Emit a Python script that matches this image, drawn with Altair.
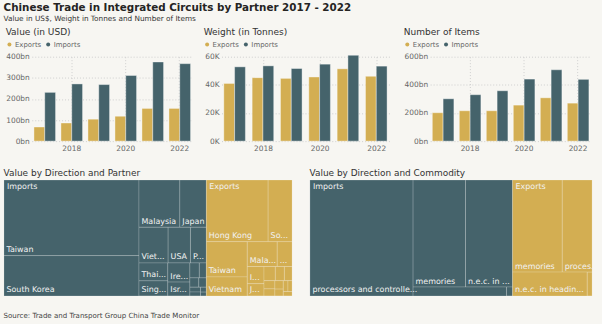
import altair as alt
import pandas as pd

FONT = "DejaVu Sans"
BG = "#F7F6F2"
GOLD = "#D3AE52"
TEAL = "#45636B"
TXT = "#333333"
AXC = "#666666"

YEARS = [2017, 2018, 2019, 2020, 2021, 2022]
DIRECTIONS = ["Exports", "Imports"]

VALUE_EXPORTS = [67, 86, 104, 118, 155, 155]
VALUE_IMPORTS = [231, 271, 268, 311, 375, 367]
WEIGHT_EXPORTS = [41.0, 45.1, 44.6, 45.6, 51.4, 46.1]
WEIGHT_IMPORTS = [52.8, 53.5, 51.6, 54.7, 61.0, 53.3]
ITEMS_EXPORTS = [202, 216, 216, 256, 308, 270]
ITEMS_IMPORTS = [301, 330, 358, 441, 507, 439]

VALUE_TICKS = [0, 100, 200, 300, 400]
WEIGHT_TICKS = [0, 20, 40, 60]
ITEMS_TICKS = [0, 200, 400, 600]
YEAR_TICKS = [2018, 2020, 2022]

# Value by direction and partner (bn USD)
PARTNER_IMP_NAMES = ["Taiwan", "South Korea", "Malaysia", "Japan", "Vietnam", "USA",
                     "Philippines", "Thailand", "Singapore", "Ireland", "Israel",
                     "Germany", "Netherlands", "Mexico", "Costa Rica", "France",
                     "Morocco", "Indonesia", "India"]
PARTNER_IMP_VALUES = [159.8, 85.3, 30.2, 19.6, 16.3, 12.5, 8.9, 8.1, 6.8, 6.6, 4.8,
                      2.2, 1.65, 1.3, 1.1, 0.8, 0.65, 0.45, 0.35]
PARTNER_IMP_LABELS = ["Taiwan", "South Korea", "Malaysia", "Japan", "Viet...", "USA",
                      "P...", "Thai...", "Sing...", "Ire...", "Isr...",
                      "", "", "", "", "", "", "", ""]
PARTNER_EXP_NAMES = ["Hong Kong", "South Korea", "Taiwan", "Vietnam", "Malaysia",
                     "Singapore", "India", "Japan", "USA", "Thailand", "Philippines",
                     "Germany", "Mexico", "Netherlands", "Hungary", "Czechia",
                     "Brazil", "Israel"]
PARTNER_EXP_VALUES = [59.6, 23.1, 22.6, 12.2, 11.7, 5.8, 4.5, 3.2, 2.5, 2.0, 1.7,
                      1.4, 1.2, 1.1, 0.9, 0.8, 0.7, 0.6]
PARTNER_EXP_LABELS = ["Hong Kong", "So...", "Taiwan", "Vietnam", "Mala...", "...",
                      "I...", "J...", "", "", "", "", "", "", "", "", "", ""]

# Value by direction and commodity (bn USD)
COMM_IMP_NAMES = ["processors and controllers", "memories", "n.e.c. in heading 8542",
                  "amplifiers", "parts"]
COMM_IMP_VALUES = [186.8, 87.7, 78.7, 13.0, 0.84]
COMM_IMP_LABELS = ["processors and controlle...", "memories", "n.e.c. in ...", "", ""]
COMM_EXP_NAMES = ["memories", "processors and controllers", "n.e.c. in heading 8542",
                  "amplifiers"]
COMM_EXP_VALUES = [71.5, 42.9, 27.8, 1.8]
COMM_EXP_LABELS = ["memories", "proces...", "n.e.c. in headin...", ""]

PHI = (1 + 5 ** 0.5) / 2


def squarify(values, x0, y0, x1, y1, ratio=PHI):
    """Port of d3.treemapSquarify (values sorted descending)."""
    out = []
    n = len(values)
    value = float(sum(values))
    i0 = i1 = 0
    while i0 < n:
        dx, dy = x1 - x0, y1 - y0
        sum_v = values[i1]
        i1 += 1
        min_v = max_v = sum_v
        alpha = max(dy / dx, dx / dy) / (value * ratio)
        beta = sum_v * sum_v * alpha
        min_ratio = max(max_v / beta, beta / min_v)
        while i1 < n:
            nv = values[i1]
            s = sum_v + nv
            mn, mx = min(min_v, nv), max(max_v, nv)
            beta = s * s * alpha
            new_ratio = max(mx / beta, beta / mn)
            if new_ratio > min_ratio:
                break
            sum_v, min_v, max_v, min_ratio = s, mn, mx, new_ratio
            i1 += 1
        row = values[i0:i1]
        if dx < dy:
            ny = y0 + dy * sum_v / value if i1 < n else y1
            k = (x1 - x0) / sum_v
            x = x0
            for v in row:
                out.append((x, y0, x + v * k, ny))
                x += v * k
            y0 = ny
        else:
            nx = x0 + dx * sum_v / value if i1 < n else x1
            k = (y1 - y0) / sum_v
            y = y0
            for v in row:
                out.append((x0, y, nx, y + v * k))
                y += v * k
            x0 = nx
        value -= sum_v
        i0 = i1
    return out


def treemap_frames(groups, W, H):
    groups = sorted(groups, key=lambda g: -sum(g[2]))
    tops = squarify([sum(g[2]) for g in groups], 0, 0, W, H)
    cells, heads = [], []
    for (gname, names, vals, labels), (gx0, gy0, gx1, gy1) in zip(groups, tops):
        order = sorted(range(len(vals)), key=lambda i: -vals[i])
        rects = squarify([vals[i] for i in order], gx0, gy0, gx1, gy1)
        for i, (a, b, c, d) in zip(order, rects):
            cells.append({"dir": gname, "name": names[i], "value": vals[i],
                          "label": labels[i], "x0": a, "y0": b, "x1": c, "y1": d})
        heads.append({"dir": gname, "label": gname, "x0": gx0, "y0": gy0})
    return pd.DataFrame(cells), pd.DataFrame(heads)


color_scale = alt.Scale(domain=DIRECTIONS, range=[GOLD, TEAL])


def bar_panel(title, exp, imp, ticks, suffix, width, legend_x):
    df = pd.DataFrame({"year": YEARS * 2,
                       "dir": ["Exports"] * len(YEARS) + ["Imports"] * len(YEARS),
                       "v": list(exp) + list(imp)})
    return alt.Chart(df, title=alt.TitleParams(
        title, anchor="start", frame="bounds", fontSize=9.1,
        fontWeight="normal", color=TXT, offset=4, font=FONT)
    ).mark_bar(stroke="#FFFFFF", strokeOpacity=0.55, strokeWidth=0.7).encode(
        x=alt.X("year:O", title=None,
                scale=alt.Scale(paddingInner=0.2, paddingOuter=0.08),
                axis=alt.Axis(values=YEAR_TICKS, labelAngle=0, grid=True,
                              gridDash=[1, 2], gridColor="#CFCFCF", domain=False,
                              ticks=False, bandPosition=0.5, labelFontSize=7.5,
                              labelColor=AXC, labelPadding=3, labelFont=FONT)),
        xOffset=alt.XOffset("dir:N", scale=alt.Scale(domain=DIRECTIONS, paddingInner=0,
                                                      paddingOuter=0)),
        y=alt.Y("v:Q", title=None, scale=alt.Scale(domain=[ticks[0], ticks[-1]], nice=False),
                axis=alt.Axis(values=ticks, labelExpr=f"datum.value + '{suffix}'",
                              grid=True, gridDash=[1, 2], gridColor="#CFCFCF",
                              domain=False, ticks=False, labelFontSize=7.5,
                              labelColor=AXC, labelPadding=2.5, labelFont=FONT)),
        color=alt.Color("dir:N", scale=color_scale, legend=alt.Legend(
            title=None, orient="none", legendX=legend_x, legendY=-16,
            direction="horizontal", symbolType="circle", symbolSize=16,
            symbolStrokeWidth=0, labelFontSize=7, labelColor=AXC, labelFont=FONT,
            labelOffset=2, columnPadding=3, padding=0)),
    ).properties(width=width, height=85)


def treemap_panel(title, groups, W, H):
    cells, heads = treemap_frames(groups, W, H)
    xs = alt.Scale(domain=[0, W], nice=False, zero=False)
    ys = alt.Scale(domain=[H, 0], nice=False, zero=False)
    rect = alt.Chart(cells).mark_rect(stroke="#FFFFFF", strokeOpacity=0.22,
                                      strokeWidth=0.8).encode(
        x=alt.X("x0:Q", scale=xs, axis=None), x2="x1:Q",
        y=alt.Y("y0:Q", scale=ys, axis=None), y2="y1:Q",
        color=alt.Color("dir:N", scale=color_scale, legend=None),
        tooltip=["dir:N", "name:N", "value:Q"])
    lab = alt.Chart(cells).mark_text(align="left", baseline="alphabetic", dx=2.5, dy=-3.5,
                                     fontSize=8, color="#F2F2F2", font=FONT,
                                     clip=True).encode(
        x=alt.X("x0:Q", scale=xs, axis=None), y=alt.Y("y1:Q", scale=ys, axis=None),
        text="label:N")
    head = alt.Chart(heads).mark_text(align="left", baseline="top", dx=3, dy=3,
                                      fontSize=8, color="#F2F2F2", font=FONT,
                                      clip=True).encode(
        x=alt.X("x0:Q", scale=xs, axis=None), y=alt.Y("y0:Q", scale=ys, axis=None),
        text="label:N")
    return alt.layer(rect, lab, head).properties(
        width=W, height=H,
        title=alt.TitleParams(title, anchor="start", frame="bounds", fontSize=9.0,
                              fontWeight="normal", color=TXT, offset=1.5, font=FONT))


p1 = bar_panel("Value (in USD)", VALUE_EXPORTS, VALUE_IMPORTS, VALUE_TICKS, "bn", 162, -26)
p2 = bar_panel("Weight (in Tonnes)", WEIGHT_EXPORTS, WEIGHT_IMPORTS, WEIGHT_TICKS, "K", 170, -18)
p3 = bar_panel("Number of Items", ITEMS_EXPORTS, ITEMS_IMPORTS, ITEMS_TICKS, "bn", 162, -26.5)

# zero-extent anchor so that row 1 and row 2 share the same left origin
anchor = alt.Chart(pd.DataFrame({"a": [0]})).mark_point(
    opacity=0, size=0, strokeWidth=0).encode(
    x=alt.value(0), y=alt.value(0)).properties(width=0.01, height=85)

row1 = alt.hconcat(
    anchor,
    alt.hconcat(
        alt.hconcat(p1, p2, spacing=11).resolve_scale(color="independent"),
        p3, spacing=13).resolve_scale(color="independent"),
    spacing=0).resolve_scale(color="independent")

t1 = treemap_panel("Value by Direction and Partner", [
    ("Imports", PARTNER_IMP_NAMES, PARTNER_IMP_VALUES, PARTNER_IMP_LABELS),
    ("Exports", PARTNER_EXP_NAMES, PARTNER_EXP_VALUES, PARTNER_EXP_LABELS)], 290, 116.6)
t2 = treemap_panel("Value by Direction and Commodity", [
    ("Imports", COMM_IMP_NAMES, COMM_IMP_VALUES, COMM_IMP_LABELS),
    ("Exports", COMM_EXP_NAMES, COMM_EXP_VALUES, COMM_EXP_LABELS)], 284, 116.6)

row2 = alt.hconcat(t1, t2, spacing=16).resolve_scale(color="independent").properties(
    title=alt.TitleParams("Source: Trade and Transport Group China Trade Monitor",
                          orient="bottom", anchor="start", fontSize=7.1,
                          fontWeight="normal", color="#444444", offset=15.5, font=FONT))

chart = alt.vconcat(row1, row2, spacing=17.2).resolve_scale(
    color="independent").properties(
    title=alt.TitleParams("Chinese Trade in Integrated Circuits by Partner 2017 - 2022",
                          subtitle="Value in US$, Weight in Tonnes and Number of Items",
                          anchor="start", fontSize=10.4, fontWeight="bold", color="#252423",
                          subtitleFontSize=7.35, subtitleColor=TXT, subtitlePadding=2,
                          offset=5, font=FONT, subtitleFont=FONT),
    padding={"left": 3, "top": 2, "right": 9, "bottom": 4.3},
).configure(background=BG, font=FONT).configure_view(stroke=None)

chart.save("out.html", embed_options={"renderer": "svg", "actions": False})
